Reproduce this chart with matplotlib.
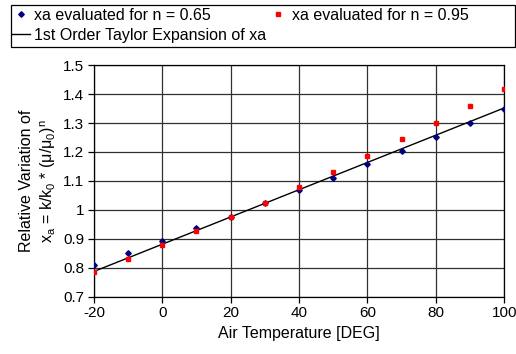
import matplotlib
matplotlib.use("Agg")
import matplotlib.pyplot as plt
from matplotlib.lines import Line2D
from matplotlib.patches import Rectangle

plt.rcParams['font.family'] = ['Liberation Sans', 'DejaVu Sans']
plt.rcParams['mathtext.default'] = 'regular'
plt.rcParams['axes.unicode_minus'] = False

# air temperature [deg]
temp = [-20, -10, 0, 10, 20, 30, 40, 50, 60, 70, 80, 90, 100]
# xa for n = 0.65
xa_065 = [0.811, 0.851, 0.894, 0.936, 0.976, 1.024, 1.067, 1.111, 1.158, 1.204, 1.251, 1.299, 1.347]
# xa for n = 0.95
xa_095 = [0.784, 0.830, 0.877, 0.926, 0.975, 1.024, 1.079, 1.131, 1.187, 1.244, 1.300, 1.360, 1.419]
# 1st order taylor expansion
taylor_t = [-20, 100]
taylor_xa = [0.787, 1.352]

W, H = 516, 354
fig = plt.figure(figsize=(W / 100, H / 100), dpi=100)
ax = fig.add_axes([0.182, 0.162, 0.795, 0.654])

ax.plot(taylor_t, taylor_xa, color='black', lw=1.0, zorder=3)
ax.plot(temp, xa_065, linestyle='none', marker='D', ms=2.8, color='#000080', zorder=4)
ax.plot(temp, xa_095, linestyle='none', marker='s', ms=3.5, color='#FF0000', zorder=4)

ax.set_xlim(-20, 100)
ax.set_ylim(0.7, 1.5)
ax.set_xticks([-20, 0, 20, 40, 60, 80, 100])
ax.set_yticks([0.7, 0.8, 0.9, 1.0, 1.1, 1.2, 1.3, 1.4, 1.5])
ax.set_yticklabels(['0.7', '0.8', '0.9', '1', '1.1', '1.2', '1.3', '1.4', '1.5'])
ax.grid(True, color='#303030', lw=0.9)
ax.set_axisbelow(True)
ax.tick_params(direction='out', length=4, width=0.9, labelsize=11, pad=3)
for s in ax.spines.values():
    s.set_color('black')
    s.set_linewidth(0.9)

ax.set_xlabel('Air Temperature [DEG]', fontsize=11.5, labelpad=4)
ax.set_ylabel('Relative Variation of\n'
              r'x$_{a}$ = k/k$_{0}$ * ($\mu$/$\mu_{0}$)$^{n}$',
              fontsize=11.5, labelpad=4, linespacing=1.3)

# legend box drawn by hand so the columns sit like the original
fig.patches.append(Rectangle((11 / W, 1 - 47 / H), 504 / W, 42 / H,
                             transform=fig.transFigure, fill=False,
                             ec='black', lw=0.9))
handles = [
    Line2D([], [], linestyle='none', marker='D', ms=2.8, color='#000080'),
    Line2D([], [], color='black', lw=1.0),
    Line2D([], [], linestyle='none', marker='s', ms=3.5, color='#FF0000'),
]
labels = ['xa evaluated for n = 0.65', '1st Order Taylor Expansion of xa',
          'xa evaluated for n = 0.95']
leg = fig.legend(handles, labels, ncol=2, loc='upper left',
                 bbox_to_anchor=(12 / W, 1 - 8 / H),
                 fontsize=11.5, frameon=False,
                 handlelength=1.1, handletextpad=0.3, borderpad=0.0,
                 labelspacing=0.3, columnspacing=0.2, borderaxespad=0)

fig.savefig('out.png', dpi=100)
